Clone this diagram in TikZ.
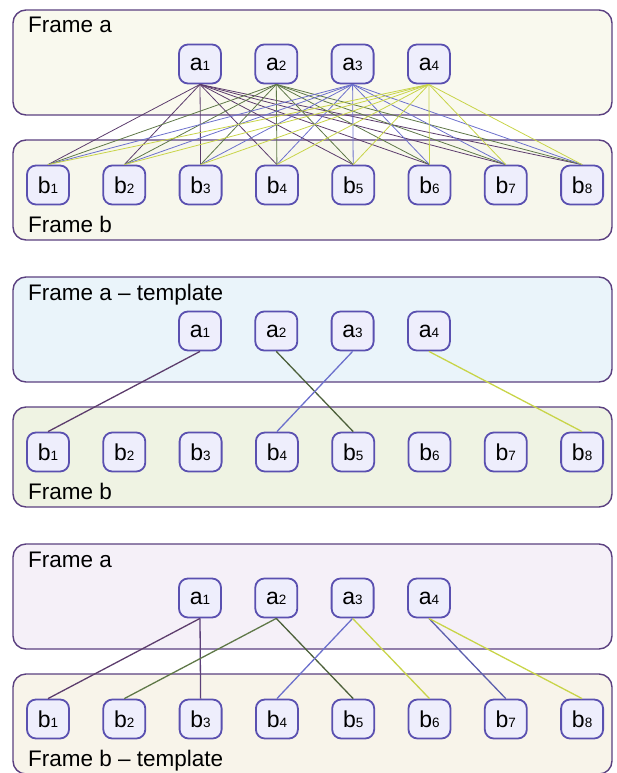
\documentclass[tikz,border=0pt]{standalone}
\usepackage{fontspec}
\setmainfont{Liberation Sans}

% outline and fill colours
\definecolor{framec}{HTML}{5B4080}
\definecolor{nodec}{HTML}{5A50B0}
\definecolor{nodefill}{HTML}{EEEEFC}
% connector colours
\definecolor{cpurple}{HTML}{5C3C6C}
\definecolor{cgreen}{HTML}{5F7848}
\definecolor{cblue}{HTML}{6C70CC}
\definecolor{cyellow}{HTML}{C8D448}
% panel fills
\definecolor{fillAa}{HTML}{F9F9EE}
\definecolor{fillAb}{HTML}{F7F7EC}
\definecolor{fillBa}{HTML}{EAF4FA}
\definecolor{fillBb}{HTML}{EFF3E3}
\definecolor{fillCa}{HTML}{F5F0F8}
\definecolor{fillCb}{HTML}{F8F4EA}

% element label: letter with a small index digit on the baseline
\newcommand\elemtext[2]{#1{\fontsize{13.5}{13.5}\selectfont #2}}

% one panel: #1 name prefix, #2/#3 fills, #4/#5 frame titles
\newcommand\drawpanel[5]{%
  \draw[panelbox, fill=#2] (13,10) rectangle (612,115);
  \draw[panelbox, fill=#3] (13,140) rectangle (612,240);
  \node[lbl] (#1ta) at (28,33) {#4};
  \node[lbl] (#1tb) at (28,232) {#5};
  \foreach \i in {1,...,4}
    \node[elem] (#1a\i) at ({200+76.3*(\i-1)},64) {\elemtext{a}{\i}};
  \foreach \i in {1,...,8}
    \node[elem] (#1b\i) at ({48+76.3*(\i-1)},185) {\elemtext{b}{\i}};
}

\begin{document}
\begin{tikzpicture}[x=1pt,y=-1pt,
  panelbox/.style={draw=framec, line width=1.4pt, rounded corners=13pt},
  elem/.style={draw=nodec, fill=nodefill, line width=1.8pt, rounded corners=9pt,
    minimum width=42pt, minimum height=39pt, inner sep=0pt,
    font=\fontsize{23}{23}\selectfont},
  lbl/.style={anchor=base west, inner sep=0pt, font=\fontsize{22.5}{22.5}\selectfont},
  thin link/.style={line width=0.8pt},
  link/.style={line width=1.3pt}]
\useasboundingbox (0,0) rectangle (616,773);

% every element of frame a linked to every element of frame b
\begin{scope}
  \drawpanel{p}{fillAa}{fillAb}{Frame a}{Frame b}
  \foreach \i/\c in {1/cpurple,2/cgreen,3/cblue,4/cyellow}
    \foreach \j in {1,...,8}
      \draw[thin link, \c] (pa\i.south) -- (pb\j.north);
\end{scope}

% frame a as template
\begin{scope}[yshift=-267pt]
  \drawpanel{q}{fillBa}{fillBb}{Frame a \textendash\ template}{Frame b}
  \draw[link, cpurple] (qa1.south) -- (qb1.north);
  \draw[link, cgreen!80!black] (qa2.south) -- (qb5.north);
  \draw[link, cblue] (qa3.south) -- (qb4.north);
  \draw[link, cyellow] (qa4.south) -- (qb8.north);
\end{scope}

% frame b as template
\begin{scope}[yshift=-534pt]
  \drawpanel{r}{fillCa}{fillCb}{Frame a}{Frame b \textendash\ template}
  \draw[link, cpurple] (ra1.south) -- (rb1.north);
  \draw[link, cpurple!80!nodec] (ra1.south) -- (rb3.north);
  \draw[link, cgreen] (ra2.south) -- (rb2.north);
  \draw[link, cgreen!80!black] (ra2.south) -- (rb5.north);
  \draw[link, cblue] (ra3.south) -- (rb4.north);
  \draw[link, cyellow] (ra3.south) -- (rb6.north);
  \draw[link, cblue!85!black] (ra4.south) -- (rb7.north);
  \draw[link, cyellow] (ra4.south) -- (rb8.north);
\end{scope}
\end{tikzpicture}
\end{document}
